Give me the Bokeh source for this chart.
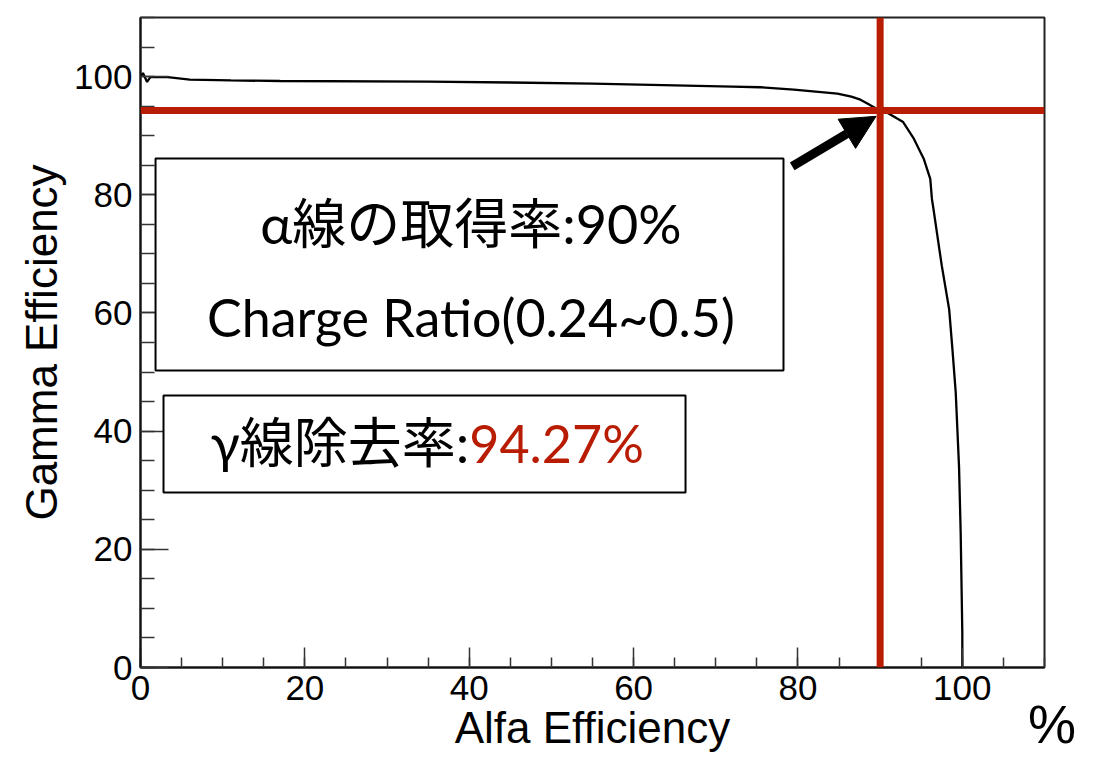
from bokeh.embed import file_html
from bokeh.models import (Arrow, BoxAnnotation, FixedTicker, Label, LinearAxis,
                          NormalHead, SingleIntervalTicker, Span)
from bokeh.plotting import figure
from bokeh.resources import INLINE

# Alpha acceptance vs. gamma rejection for the charge-ratio cut scan (%)
alfa_eff = [0.0, 0.3, 0.8, 1.2, 3.3, 6.0, 11.0, 17.0, 35.0, 45.0, 55.0,
            65.0, 72.0, 75.4, 79.5, 84.8, 86.5, 87.6, 88.5, 89.4, 90.0,
            90.6, 91.6, 92.8, 94.1, 95.3, 96.1, 96.3, 96.5, 97.5, 98.4,
            98.8, 99.2, 99.6, 99.8, 100.0, 100.0]
gamma_eff = [100.0, 100.6, 99.1, 99.9, 99.9, 99.5, 99.35, 99.25, 99.15,
             99.0, 98.8, 98.5, 98.3, 98.2, 97.8, 97.1, 96.6, 96.1, 95.4,
             94.7, 94.27, 94.1, 93.3, 92.3, 89.5, 86.1, 82.7, 79.3, 77.5,
             68.0, 60.6, 53.8, 46.5, 34.0, 22.8, 5.8, 0.0]

# Working point of the cut
alpha_cut = 90
gamma_at_cut = 94.27
charge_ratio = ("0.24", "0.5")

x_ticks_major = 20
y_ticks_major = 20

RED = "#b81c02"
AXIS_FONT = "Liberation Sans"
BOX_FONT = "Lato, 'Noto Sans CJK JP'"

p = figure(width=1093, height=757, x_range=(0, 110), y_range=(0, 110),
           output_backend="svg", toolbar_location=None,
           min_border_left=140, min_border_right=49,
           min_border_top=17, min_border_bottom=90)
p.background_fill_color = "white"
p.border_fill_color = "white"
p.outline_line_color = "#222222"
p.outline_line_width = 2
p.grid.visible = False

# ROOT-style axes: ticks pointing into the frame
p.xaxis.ticker = SingleIntervalTicker(interval=x_ticks_major, num_minor_ticks=4)
p.yaxis.ticker = SingleIntervalTicker(interval=y_ticks_major, num_minor_ticks=4)
for ax, major_len, minor_len in ((p.xaxis, 20, 10), (p.yaxis, 28, 14)):
    ax.axis_line_width = 2
    ax.axis_line_color = "#111111"
    ax.major_tick_in = major_len
    ax.major_tick_out = 0
    ax.minor_tick_in = minor_len
    ax.minor_tick_out = 0
    ax.major_tick_line_color = "#333333"
    ax.minor_tick_line_color = "#333333"
    ax.major_tick_line_width = 1.5
    ax.minor_tick_line_width = 1.5
    ax.major_label_text_font = AXIS_FONT
    ax.major_label_text_font_size = "35px"
    ax.major_label_text_color = "black"
    ax.axis_label_text_font = AXIS_FONT
    ax.axis_label_text_font_size = "44px"
    ax.axis_label_text_font_style = "normal"
    ax.axis_label_text_color = "black"
p.xaxis.major_label_standoff = 8
p.yaxis.major_label_standoff = 8
p.xaxis.axis_label = "Alfa Efficiency"
p.xaxis.axis_label_standoff = 0
p.yaxis.axis_label = "Gamma Efficiency"
p.yaxis.axis_label_standoff = 5

# Unit mark at the right end of the x axis
unit_axis = LinearAxis(ticker=FixedTicker(ticks=[110]),
                       major_label_overrides={110: "\u00a0%"},
                       axis_line_color=None, major_tick_in=0, major_tick_out=0,
                       minor_tick_in=0, minor_tick_out=0,
                       major_label_standoff=-61,
                       major_label_text_font=AXIS_FONT,
                       major_label_text_font_size="54px",
                       major_label_text_color="black")
p.add_layout(unit_axis, "below")

# Efficiency curve
p.line(alfa_eff, gamma_eff, line_color="black", line_width=2.3)

# Cut lines at the working point
p.add_layout(Span(location=gamma_at_cut, dimension="width",
                  line_color=RED, line_width=7))
p.add_layout(Span(location=alpha_cut, dimension="height",
                  line_color=RED, line_width=7))

# Arrow pointing at the working point
p.add_layout(Arrow(end=NormalHead(size=34, fill_color="black",
                                  line_color="black"),
                   x_start=79.3, y_start=84.8, x_end=alpha_cut - 0.5,
                   y_end=gamma_at_cut - 1.0,
                   line_color="black", line_width=9))

# Annotation boxes
p.add_layout(BoxAnnotation(left=1.83, right=78.24, bottom=50.26, top=86.14,
                           fill_color="white", fill_alpha=1.0,
                           line_color="black", line_alpha=1.0, line_width=2))
p.add_layout(BoxAnnotation(left=2.80, right=66.32, bottom=29.62, top=46.03,
                           fill_color="white", fill_alpha=1.0,
                           line_color="black", line_alpha=1.0, line_width=2))

p.add_layout(Label(x=40.2, y=75.2, text=f"α線の取得率:{alpha_cut}%",
                   text_font=BOX_FONT, text_font_size="54px",
                   text_align="center", text_baseline="middle",
                   text_color="black"))
p.add_layout(Label(x=40.2, y=59.3,
                   text=f"Charge Ratio({charge_ratio[0]}~{charge_ratio[1]})",
                   text_font=BOX_FONT, text_font_size="52px",
                   text_align="center", text_baseline="middle",
                   text_color="black"))
p.add_layout(Label(x=40.0, y=38.0, text="γ線除去率:",
                   text_font=BOX_FONT, text_font_size="54px",
                   text_align="right", text_baseline="middle",
                   text_color="black"))
p.add_layout(Label(x=40.0, y=38.0, text=f"{gamma_at_cut:.2f}%",
                   text_font=BOX_FONT, text_font_size="52px",
                   text_align="left", text_baseline="middle",
                   text_color=RED))

open("out.html", "w").write(file_html(p, INLINE))
